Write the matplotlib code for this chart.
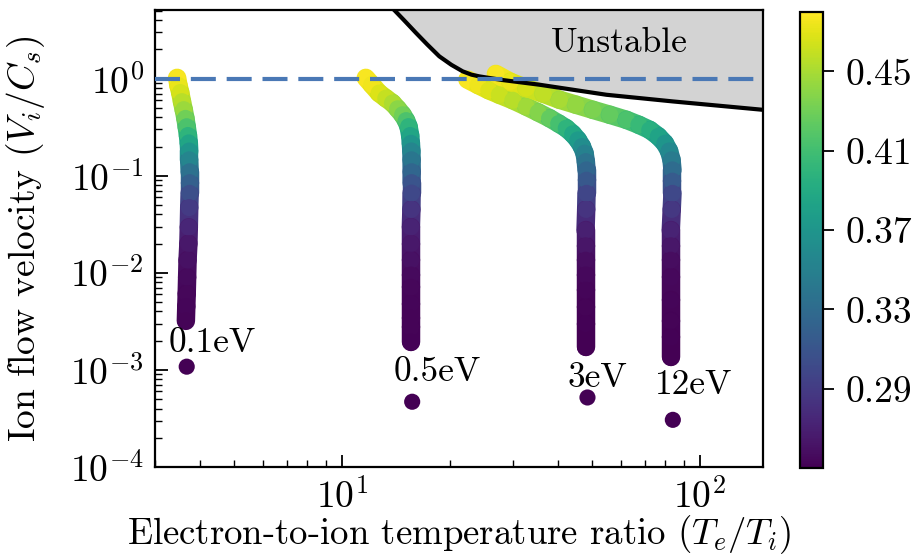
import numpy as np
import matplotlib
matplotlib.use("Agg")
import matplotlib.pyplot as plt
from matplotlib.collections import LineCollection
from matplotlib.colors import Normalize
from matplotlib.cm import ScalarMappable

plt.rcParams['font.family'] = ['cmr10', 'DejaVu Serif']
plt.rcParams['mathtext.fontset'] = 'cm'
plt.rcParams['axes.formatter.use_mathtext'] = True

# ---------------- data ----------------
# 0.1 eV
x_01 = [3.46, 3.49, 3.53, 3.57, 3.61, 3.65, 3.68, 3.71, 3.73, 3.74, 3.74, 3.75, 3.75, 3.75,
        3.74, 3.73, 3.72, 3.70, 3.69, 3.68, 3.67, 3.66]
v_01 = [1.02, 0.85, 0.72, 0.58, 0.48, 0.39, 0.32, 0.26, 0.218, 0.18, 0.146, 0.11, 0.085, 0.066,
        0.047, 0.0295, 0.02, 0.0135, 0.009, 0.0061, 0.0045, 0.0032]
c_01 = [0.478, 0.472, 0.465, 0.455, 0.445, 0.43, 0.415, 0.40, 0.385, 0.37, 0.355, 0.335, 0.32, 0.305,
        0.29, 0.275, 0.265, 0.26, 0.256, 0.254, 0.253, 0.252]

# 0.5 eV
x_05 = [11.65, 12.1, 12.69, 13.25, 13.83, 14.3, 14.76, 15.1, 15.34, 15.5, 15.57, 15.62, 15.64, 15.65,
        15.64, 15.64, 15.62, 15.57, 15.57, 15.57, 15.57, 15.57, 15.57, 15.57, 15.57, 15.57]
v_05 = [1.02, 0.87, 0.711, 0.63, 0.561, 0.49, 0.425, 0.37, 0.321, 0.26, 0.216, 0.18, 0.146, 0.11,
        0.085, 0.0663, 0.045, 0.0297, 0.02, 0.0135, 0.0095, 0.0071, 0.0048, 0.0034, 0.00275, 0.00193]
c_05 = [0.478, 0.475, 0.468, 0.46, 0.452, 0.44, 0.43, 0.415, 0.40, 0.385, 0.37, 0.355, 0.34, 0.325,
        0.31, 0.30, 0.285, 0.272, 0.265, 0.26, 0.256, 0.254, 0.253, 0.252, 0.252, 0.251]

# 3 eV
x_3 = [22.4, 24.0, 25.7, 27.5, 30.0, 32.7, 35.3, 38.0, 40.3, 42.3, 44.1, 45.6, 46.8, 47.6,
       48.0, 48.2, 48.2, 48.2, 48.1, 47.9, 47.9, 47.9, 47.9, 47.9, 47.9, 47.9, 47.9]
v_3 = [0.98, 0.86, 0.76, 0.684, 0.60, 0.517, 0.45, 0.392, 0.345, 0.309, 0.27, 0.234, 0.20, 0.171,
       0.14, 0.115, 0.09, 0.0659, 0.045, 0.0275, 0.019, 0.0135, 0.0095, 0.0066, 0.0044, 0.0030, 0.00171]
c_3 = [0.478, 0.474, 0.468, 0.462, 0.455, 0.447, 0.437, 0.425, 0.412, 0.40, 0.388, 0.375, 0.362, 0.35,
       0.338, 0.325, 0.312, 0.298, 0.285, 0.27, 0.263, 0.258, 0.255, 0.253, 0.252, 0.251, 0.25]

# 12 eV
x_12 = [26.9, 29.5, 32.7, 36.5, 40.5, 45.0, 50.2, 56.0, 62.3, 67.5, 72.4, 76.5, 79.8, 82.0,
        83.3, 83.8, 83.8, 83.8, 83.4, 82.9, 82.9, 82.9, 82.9, 82.9, 82.9, 82.9, 82.9]
v_12 = [1.12, 0.93, 0.80, 0.70, 0.607, 0.54, 0.478, 0.425, 0.377, 0.335, 0.297, 0.255, 0.216, 0.18,
        0.146, 0.115, 0.088, 0.0659, 0.045, 0.0275, 0.019, 0.0135, 0.009, 0.0052, 0.0032, 0.00217, 0.00135]
c_12 = [0.478, 0.472, 0.465, 0.458, 0.45, 0.443, 0.435, 0.425, 0.415, 0.405, 0.395, 0.383, 0.37, 0.357,
        0.345, 0.33, 0.315, 0.30, 0.287, 0.272, 0.264, 0.258, 0.255, 0.253, 0.252, 0.251, 0.25]

# isolated lowest points
x_low = [3.68, 15.7, 48.5, 84.0]
v_low = [1.08e-3, 4.7e-4, 5.2e-4, 3.06e-4]
c_low = [0.25, 0.25, 0.25, 0.25]

# labels
lab_text = ["0.1eV", "0.5eV", "3eV", "12eV"]
lab_x = [4.34, 18.5, 51.8, 96.2]
lab_y = [1.87e-3, 9.4e-4, 8.3e-4, 6.9e-4]

# stability boundary
bx = [13.2, 14.0, 14.92, 16.08, 17.3, 18.69, 20.2, 21.73, 23.0, 24.2, 28.0, 35.6, 54.8, 84.1, 150.0]
by = [6.2, 5.08, 3.98, 2.97, 2.25, 1.70, 1.39, 1.19, 1.10, 1.056, 0.97, 0.867, 0.683, 0.583, 0.478]

cb_ticks = [0.29, 0.33, 0.37, 0.41, 0.45]
c_min, c_max = 0.25, 0.48

# ---------------- figure ----------------
fig = plt.figure(figsize=(9.18, 5.59), dpi=100)
ax = fig.add_axes([0.1688, 0.1646, 0.6623, 0.8175])
cax = fig.add_axes([0.8715, 0.1628, 0.0251, 0.8157])

ax.set_xscale('log')
ax.set_yscale('log')
ax.set_xlim(3, 150)
ax.set_ylim(1e-4, 5.1)

norm = Normalize(vmin=c_min, vmax=c_max)
cmap = plt.get_cmap('viridis')

# unstable region
ax.fill_between(bx, by, 100, color='#d3d3d3', zorder=1, linewidth=0)

def draw_curve(x, v, c):
    pts = np.column_stack([x, v])
    segs = np.stack([pts[:-1], pts[1:]], axis=1)
    lc = LineCollection(segs, cmap=cmap, norm=norm, linewidths=13.3,
                        capstyle='round', joinstyle='round', zorder=2,
                        transform=ax.transData)
    cc = np.asarray(c)
    lc.set_array((cc[:-1] + cc[1:]) / 2)
    ax.add_collection(lc)
    ax.scatter(x, v, c=c, cmap=cmap, norm=norm, s=150, edgecolors='none', zorder=3)

for xs, vs, cs in [(x_01, v_01, c_01), (x_05, v_05, c_05), (x_3, v_3, c_3), (x_12, v_12, c_12)]:
    draw_curve(xs, vs, cs)

ax.scatter(x_low, v_low, c=c_low, cmap=cmap, norm=norm, s=135, edgecolors='none', zorder=3)

ax.plot(bx, by, color='black', linewidth=3.0, zorder=4, solid_capstyle='butt')
ax.axhline(1.0, color='#4a78b5', linewidth=3.0, dashes=(6, 2.6), zorder=5)

ax.text(59.7, 2.3, "Unstable", fontsize=25.5, ha='center', va='center', zorder=6)
for t, lx, ly in zip(lab_text, lab_x, lab_y):
    ax.text(lx, ly, t, fontsize=25.5, ha='center', va='center', zorder=6)

ax.set_xlabel(r"Electron-to-ion temperature ratio $(T_e/T_i)$", fontsize=26.5)
ax.set_ylabel(r"Ion flow velocity $(V_i/C_s)$", fontsize=27)
ax.xaxis.set_label_coords(0.5, -0.100)
ax.yaxis.set_label_coords(-0.178, 0.5)

ax.tick_params(which='both', direction='in', top=False, right=False, labelsize=27)
ax.tick_params(which='major', length=9, width=1.3, pad=8)
ax.tick_params(which='minor', length=5, width=1.0)
for s in ax.spines.values():
    s.set_linewidth(1.6)

cb = fig.colorbar(ScalarMappable(norm=norm, cmap=cmap), cax=cax, ticks=cb_ticks)
cb.ax.set_yticklabels([f"{t:.2f}" for t in cb_ticks])
cb.ax.tick_params(labelsize=27, length=8, width=1.3, pad=8)
cb.outline.set_linewidth(1.6)

fig.savefig("out.png", dpi=100)
